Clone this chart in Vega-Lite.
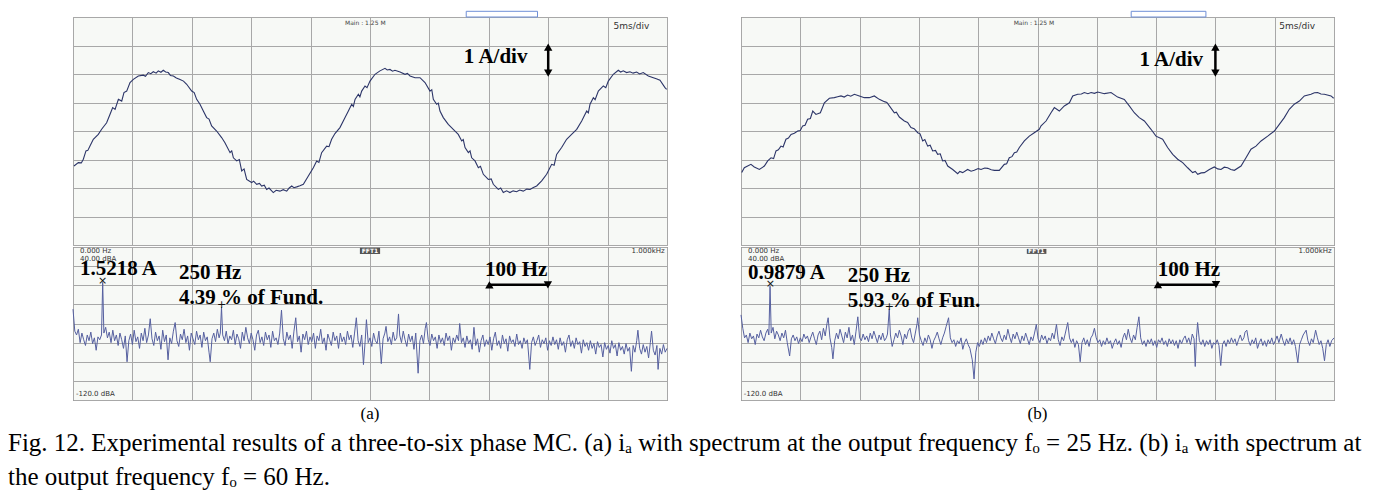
{
"$schema": "https://vega.github.io/schema/vega-lite/v6.json",
"background": "white",
"padding": {"left": 8, "top": 10, "right": 4, "bottom": 2},
"config": {"view": {"continuousWidth": 300}, "concat": {"spacing": 0}},
"datasets": {
"waveA": [{"t":0.08,"i":-1.23},{"t":0.45,"i":-1.11},{"t":0.7,"i":-1.12},{"t":0.87,"i":-0.99},{"t":1.09,"i":-0.7},{"t":1.25,"i":-0.68},{"t":1.43,"i":-0.53},{"t":1.71,"i":-0.29},{"t":2.13,"i":-0.12},{"t":2.41,"i":0.06},{"t":2.83,"i":0.29},{"t":3.11,"i":0.58},{"t":3.34,"i":0.82},{"t":3.54,"i":0.76},{"t":3.82,"i":1.11},{"t":4.1,"i":1.05},{"t":4.29,"i":1.35},{"t":4.52,"i":1.4},{"t":4.8,"i":1.7},{"t":5.08,"i":1.81},{"t":5.5,"i":1.93},{"t":5.92,"i":1.96},{"t":6.1,"i":1.92},{"t":6.34,"i":2.05},{"t":6.55,"i":2.01},{"t":6.76,"i":2.08},{"t":7.0,"i":2.03},{"t":7.18,"i":2.11},{"t":7.4,"i":2.06},{"t":7.6,"i":2.13},{"t":7.8,"i":2.07},{"t":8.02,"i":2.05},{"t":8.2,"i":1.95},{"t":8.45,"i":1.93},{"t":8.7,"i":1.86},{"t":9.01,"i":1.81},{"t":9.3,"i":1.75},{"t":9.57,"i":1.64},{"t":9.99,"i":1.4},{"t":10.2,"i":1.35},{"t":10.41,"i":1.11},{"t":10.69,"i":0.94},{"t":10.97,"i":0.7},{"t":11.25,"i":0.47},{"t":11.45,"i":0.42},{"t":11.67,"i":0.18},{"t":12.09,"i":0.0},{"t":12.51,"i":-0.23},{"t":12.79,"i":-0.41},{"t":13.22,"i":-0.76},{"t":13.36,"i":-0.7},{"t":13.5,"i":-0.94},{"t":13.78,"i":-1.05},{"t":14.0,"i":-1.0},{"t":14.2,"i":-1.4},{"t":14.4,"i":-1.33},{"t":14.62,"i":-1.7},{"t":15.04,"i":-1.81},{"t":15.2,"i":-1.76},{"t":15.46,"i":-1.87},{"t":15.7,"i":-1.84},{"t":15.88,"i":-1.93},{"t":16.1,"i":-1.9},{"t":16.3,"i":-2.05},{"t":16.5,"i":-2.0},{"t":16.86,"i":-2.16},{"t":17.1,"i":-2.08},{"t":17.42,"i":-2.11},{"t":17.7,"i":-2.06},{"t":17.99,"i":-2.11},{"t":18.2,"i":-2.0},{"t":18.41,"i":-1.93},{"t":18.6,"i":-1.99},{"t":18.83,"i":-1.96},{"t":19.1,"i":-1.92},{"t":19.39,"i":-1.87},{"t":19.81,"i":-1.58},{"t":20.23,"i":-1.29},{"t":20.51,"i":-1.05},{"t":20.7,"i":-1.1},{"t":20.93,"i":-0.76},{"t":21.35,"i":-0.53},{"t":21.55,"i":-0.55},{"t":21.77,"i":-0.29},{"t":22.05,"i":-0.09},{"t":22.47,"i":0.12},{"t":22.9,"i":0.47},{"t":23.18,"i":0.7},{"t":23.46,"i":0.94},{"t":23.6,"i":0.86},{"t":23.74,"i":1.11},{"t":24.02,"i":1.29},{"t":24.15,"i":1.2},{"t":24.3,"i":1.4},{"t":24.58,"i":1.58},{"t":24.75,"i":1.52},{"t":25.0,"i":1.75},{"t":25.42,"i":1.99},{"t":25.84,"i":2.11},{"t":26.26,"i":2.2},{"t":26.45,"i":2.14},{"t":26.68,"i":2.16},{"t":26.9,"i":2.1},{"t":27.1,"i":2.13},{"t":27.53,"i":2.07},{"t":27.95,"i":1.99},{"t":28.15,"i":2.02},{"t":28.37,"i":1.93},{"t":28.79,"i":1.87},{"t":29.21,"i":1.87},{"t":29.63,"i":1.7},{"t":30.05,"i":1.4},{"t":30.2,"i":1.45},{"t":30.33,"i":1.11},{"t":30.61,"i":0.94},{"t":30.75,"i":0.98},{"t":30.89,"i":0.7},{"t":31.17,"i":0.47},{"t":31.59,"i":0.23},{"t":32.01,"i":0.06},{"t":32.43,"i":-0.12},{"t":32.72,"i":-0.35},{"t":32.85,"i":-0.3},{"t":33.0,"i":-0.58},{"t":33.28,"i":-0.76},{"t":33.42,"i":-0.7},{"t":33.56,"i":-0.94},{"t":33.84,"i":-1.05},{"t":34.12,"i":-1.29},{"t":34.3,"i":-1.24},{"t":34.54,"i":-1.52},{"t":34.96,"i":-1.7},{"t":35.2,"i":-1.68},{"t":35.38,"i":-1.87},{"t":35.8,"i":-2.05},{"t":36.0,"i":-2.0},{"t":36.22,"i":-2.16},{"t":36.5,"i":-2.1},{"t":36.78,"i":-2.16},{"t":37.05,"i":-2.1},{"t":37.34,"i":-2.13},{"t":37.6,"i":-2.07},{"t":37.9,"i":-2.11},{"t":38.2,"i":-2.04},{"t":38.47,"i":-2.05},{"t":38.75,"i":-1.98},{"t":39.03,"i":-1.93},{"t":39.45,"i":-1.75},{"t":39.87,"i":-1.52},{"t":40.29,"i":-1.17},{"t":40.5,"i":-1.2},{"t":40.71,"i":-0.82},{"t":41.13,"i":-0.58},{"t":41.55,"i":-0.29},{"t":41.97,"i":-0.12},{"t":42.4,"i":0.06},{"t":42.82,"i":0.35},{"t":43.24,"i":0.7},{"t":43.38,"i":0.64},{"t":43.52,"i":0.94},{"t":43.8,"i":1.17},{"t":43.95,"i":1.1},{"t":44.22,"i":1.4},{"t":44.64,"i":1.58},{"t":44.85,"i":1.52},{"t":45.06,"i":1.75},{"t":45.48,"i":1.99},{"t":45.9,"i":2.13},{"t":46.1,"i":2.07},{"t":46.32,"i":2.11},{"t":46.6,"i":2.05},{"t":46.88,"i":2.08},{"t":47.15,"i":2.03},{"t":47.44,"i":2.07},{"t":47.7,"i":2.0},{"t":48.0,"i":2.05},{"t":48.43,"i":1.93},{"t":48.85,"i":1.87},{"t":49.1,"i":1.83},{"t":49.41,"i":1.78},{"t":49.83,"i":1.52},{"t":49.97,"i":1.46}],
"waveB": [{"t":0.06,"i":-1.46},{"t":0.28,"i":-1.29},{"t":0.56,"i":-1.23},{"t":0.84,"i":-1.17},{"t":1.12,"i":-1.26},{"t":1.55,"i":-1.35},{"t":1.97,"i":-1.23},{"t":2.25,"i":-1.05},{"t":2.53,"i":-0.94},{"t":2.75,"i":-0.97},{"t":2.95,"i":-0.7},{"t":3.15,"i":-0.66},{"t":3.37,"i":-0.53},{"t":3.55,"i":-0.56},{"t":3.79,"i":-0.29},{"t":4.0,"i":-0.25},{"t":4.22,"i":-0.12},{"t":4.5,"i":-0.08},{"t":4.78,"i":0.0},{"t":5.0,"i":0.02},{"t":5.2,"i":0.18},{"t":5.4,"i":0.2},{"t":5.62,"i":0.41},{"t":5.85,"i":0.44},{"t":6.05,"i":0.7},{"t":6.32,"i":0.58},{"t":6.69,"i":0.64},{"t":7.03,"i":0.99},{"t":7.45,"i":1.15},{"t":7.87,"i":1.17},{"t":8.15,"i":1.2},{"t":8.43,"i":1.23},{"t":8.7,"i":1.19},{"t":8.99,"i":1.26},{"t":9.25,"i":1.22},{"t":9.56,"i":1.29},{"t":9.98,"i":1.23},{"t":10.4,"i":1.17},{"t":10.82,"i":1.17},{"t":11.24,"i":1.23},{"t":11.66,"i":1.11},{"t":12.09,"i":1.03},{"t":12.3,"i":1.0},{"t":12.51,"i":0.88},{"t":12.93,"i":0.64},{"t":13.1,"i":0.66},{"t":13.35,"i":0.49},{"t":13.77,"i":0.35},{"t":14.05,"i":0.3},{"t":14.33,"i":0.12},{"t":14.6,"i":0.08},{"t":14.9,"i":-0.06},{"t":15.1,"i":-0.1},{"t":15.32,"i":-0.35},{"t":15.5,"i":-0.3},{"t":15.74,"i":-0.53},{"t":15.95,"i":-0.5},{"t":16.16,"i":-0.7},{"t":16.4,"i":-0.68},{"t":16.58,"i":-0.82},{"t":16.8,"i":-0.8},{"t":17.0,"i":-1.05},{"t":17.2,"i":-1.03},{"t":17.43,"i":-1.23},{"t":17.85,"i":-1.35},{"t":18.27,"i":-1.5},{"t":18.45,"i":-1.42},{"t":18.69,"i":-1.46},{"t":19.11,"i":-1.35},{"t":19.4,"i":-1.41},{"t":19.67,"i":-1.38},{"t":20.0,"i":-1.32},{"t":20.24,"i":-1.35},{"t":20.55,"i":-1.3},{"t":20.8,"i":-1.31},{"t":21.1,"i":-1.36},{"t":21.36,"i":-1.38},{"t":21.78,"i":-1.38},{"t":22.2,"i":-1.17},{"t":22.4,"i":-1.15},{"t":22.62,"i":-0.94},{"t":22.85,"i":-0.9},{"t":23.05,"i":-0.76},{"t":23.25,"i":-0.74},{"t":23.47,"i":-0.58},{"t":23.89,"i":-0.35},{"t":24.31,"i":-0.18},{"t":24.73,"i":-0.06},{"t":25.15,"i":0.06},{"t":25.3,"i":0.18},{"t":25.72,"i":0.35},{"t":26.14,"i":0.64},{"t":26.42,"i":0.82},{"t":26.84,"i":0.7},{"t":27.26,"i":0.88},{"t":27.69,"i":0.99},{"t":27.97,"i":1.23},{"t":28.39,"i":1.29},{"t":28.7,"i":1.3},{"t":28.95,"i":1.35},{"t":29.25,"i":1.31},{"t":29.52,"i":1.35},{"t":29.8,"i":1.32},{"t":30.08,"i":1.37},{"t":30.64,"i":1.31},{"t":31.2,"i":1.35},{"t":31.76,"i":1.19},{"t":32.32,"i":1.11},{"t":32.74,"i":0.88},{"t":33.16,"i":0.64},{"t":33.58,"i":0.47},{"t":34.01,"i":0.35},{"t":34.57,"i":0.06},{"t":34.99,"i":-0.18},{"t":35.55,"i":-0.29},{"t":35.97,"i":-0.58},{"t":36.4,"i":-0.82},{"t":36.82,"i":-0.99},{"t":37.24,"i":-1.11},{"t":37.66,"i":-1.29},{"t":38.08,"i":-1.46},{"t":38.3,"i":-1.42},{"t":38.51,"i":-1.52},{"t":38.8,"i":-1.47},{"t":39.07,"i":-1.46},{"t":39.49,"i":-1.35},{"t":39.91,"i":-1.26},{"t":40.2,"i":-1.33},{"t":40.47,"i":-1.35},{"t":40.75,"i":-1.27},{"t":41.03,"i":-1.29},{"t":41.3,"i":-1.35},{"t":41.6,"i":-1.38},{"t":42.16,"i":-1.23},{"t":42.58,"i":-0.94},{"t":43.0,"i":-0.64},{"t":43.42,"i":-0.53},{"t":43.85,"i":-0.35},{"t":44.41,"i":-0.18},{"t":44.97,"i":0.0},{"t":45.39,"i":0.23},{"t":45.81,"i":0.47},{"t":46.23,"i":0.76},{"t":46.65,"i":0.94},{"t":47.08,"i":1.05},{"t":47.5,"i":1.23},{"t":48.06,"i":1.29},{"t":48.35,"i":1.34},{"t":48.62,"i":1.35},{"t":48.9,"i":1.3},{"t":49.19,"i":1.29},{"t":49.75,"i":1.23},{"t":49.97,"i":1.15}],
"specA": [{"f":0,"d":-25},{"f":3,"d":-48},{"f":6,"d":-52},{"f":9,"d":-46},{"f":12,"d":-60},{"f":15,"d":-50},{"f":18,"d":-57},{"f":21,"d":-63},{"f":24,"d":-52},{"f":27,"d":-58},{"f":30,"d":-49},{"f":33,"d":-61},{"f":36,"d":-55},{"f":39,"d":-68},{"f":42,"d":-54},{"f":45,"d":-57},{"f":48,"d":-52},{"f":50,"d":3},{"f":52,"d":-50},{"f":55,"d":-44},{"f":58,"d":-55},{"f":61,"d":-49},{"f":64,"d":-60},{"f":67,"d":-47},{"f":70,"d":-58},{"f":73,"d":-52},{"f":76,"d":-63},{"f":79,"d":-50},{"f":82,"d":-57},{"f":85,"d":-66},{"f":88,"d":-53},{"f":91,"d":-80},{"f":94,"d":-58},{"f":97,"d":-51},{"f":100,"d":-62},{"f":103,"d":-47},{"f":106,"d":-59},{"f":109,"d":-54},{"f":112,"d":-66},{"f":115,"d":-50},{"f":118,"d":-58},{"f":121,"d":-45},{"f":124,"d":-60},{"f":127,"d":-52},{"f":130,"d":-35},{"f":133,"d":-56},{"f":136,"d":-63},{"f":139,"d":-49},{"f":142,"d":-58},{"f":145,"d":-53},{"f":148,"d":-67},{"f":151,"d":-47},{"f":154,"d":-59},{"f":157,"d":-52},{"f":160,"d":-78},{"f":163,"d":-55},{"f":166,"d":-61},{"f":169,"d":-48},{"f":172,"d":-39},{"f":175,"d":-58},{"f":178,"d":-64},{"f":181,"d":-51},{"f":184,"d":-57},{"f":187,"d":-46},{"f":190,"d":-60},{"f":193,"d":-53},{"f":196,"d":-68},{"f":199,"d":-50},{"f":202,"d":-56},{"f":205,"d":-62},{"f":208,"d":-48},{"f":211,"d":-57},{"f":214,"d":-52},{"f":217,"d":-65},{"f":220,"d":-49},{"f":223,"d":-58},{"f":226,"d":-54},{"f":229,"d":-70},{"f":231,"d":-80},{"f":234,"d":-56},{"f":237,"d":-50},{"f":240,"d":-59},{"f":243,"d":-46},{"f":246,"d":-55},{"f":248,"d":-50},{"f":250,"d":-23},{"f":252,"d":-52},{"f":255,"d":-58},{"f":258,"d":-48},{"f":261,"d":-61},{"f":264,"d":-53},{"f":267,"d":-57},{"f":270,"d":-47},{"f":273,"d":-62},{"f":276,"d":-51},{"f":279,"d":-56},{"f":282,"d":-66},{"f":285,"d":-49},{"f":288,"d":-58},{"f":291,"d":-44},{"f":294,"d":-55},{"f":297,"d":-61},{"f":300,"d":-50},{"f":303,"d":-57},{"f":306,"d":-68},{"f":309,"d":-52},{"f":312,"d":-47},{"f":315,"d":-60},{"f":318,"d":-54},{"f":321,"d":-63},{"f":324,"d":-49},{"f":327,"d":-57},{"f":330,"d":-52},{"f":333,"d":-65},{"f":336,"d":-48},{"f":339,"d":-58},{"f":342,"d":-55},{"f":345,"d":-62},{"f":348,"d":-50},{"f":351,"d":-26},{"f":354,"d":-56},{"f":357,"d":-63},{"f":360,"d":-49},{"f":363,"d":-57},{"f":366,"d":-52},{"f":369,"d":-66},{"f":372,"d":-48},{"f":375,"d":-34},{"f":378,"d":-59},{"f":381,"d":-53},{"f":384,"d":-70},{"f":387,"d":-51},{"f":390,"d":-57},{"f":393,"d":-48},{"f":396,"d":-62},{"f":399,"d":-54},{"f":402,"d":-59},{"f":405,"d":-50},{"f":408,"d":-66},{"f":411,"d":-53},{"f":414,"d":-58},{"f":417,"d":-46},{"f":420,"d":-61},{"f":423,"d":-55},{"f":426,"d":-68},{"f":429,"d":-51},{"f":432,"d":-57},{"f":435,"d":-63},{"f":438,"d":-49},{"f":441,"d":-58},{"f":444,"d":-53},{"f":447,"d":-66},{"f":450,"d":-50},{"f":453,"d":-59},{"f":456,"d":-54},{"f":459,"d":-62},{"f":462,"d":-48},{"f":465,"d":-57},{"f":468,"d":-52},{"f":471,"d":-65},{"f":474,"d":-50},{"f":477,"d":-34},{"f":480,"d":-58},{"f":483,"d":-64},{"f":486,"d":-52},{"f":489,"d":-83},{"f":492,"d":-57},{"f":494,"d":-36},{"f":497,"d":-60},{"f":500,"d":-55},{"f":503,"d":-64},{"f":506,"d":-50},{"f":509,"d":-58},{"f":512,"d":-61},{"f":515,"d":-48},{"f":519,"d":-82},{"f":522,"d":-56},{"f":525,"d":-50},{"f":527,"d":-43},{"f":530,"d":-59},{"f":533,"d":-54},{"f":536,"d":-62},{"f":539,"d":-49},{"f":542,"d":-58},{"f":545,"d":-55},{"f":548,"d":-30},{"f":550,"d":-52},{"f":553,"d":-60},{"f":556,"d":-48},{"f":559,"d":-57},{"f":562,"d":-64},{"f":565,"d":-51},{"f":568,"d":-59},{"f":571,"d":-53},{"f":574,"d":-67},{"f":577,"d":-50},{"f":581,"d":-92},{"f":584,"d":-58},{"f":587,"d":-52},{"f":590,"d":-61},{"f":593,"d":-45},{"f":595,"d":-39},{"f":598,"d":-57},{"f":601,"d":-63},{"f":604,"d":-51},{"f":607,"d":-58},{"f":610,"d":-54},{"f":613,"d":-66},{"f":616,"d":-52},{"f":619,"d":-60},{"f":622,"d":-55},{"f":625,"d":-63},{"f":628,"d":-50},{"f":631,"d":-58},{"f":634,"d":-53},{"f":637,"d":-68},{"f":640,"d":-55},{"f":643,"d":-60},{"f":646,"d":-52},{"f":649,"d":-58},{"f":651,"d":-40},{"f":654,"d":-60},{"f":657,"d":-55},{"f":660,"d":-65},{"f":663,"d":-53},{"f":666,"d":-61},{"f":669,"d":-57},{"f":672,"d":-67},{"f":675,"d":-44},{"f":678,"d":-63},{"f":681,"d":-56},{"f":684,"d":-70},{"f":687,"d":-58},{"f":690,"d":-52},{"f":693,"d":-64},{"f":696,"d":-57},{"f":699,"d":-62},{"f":702,"d":-54},{"f":705,"d":-68},{"f":708,"d":-56},{"f":711,"d":-49},{"f":714,"d":-63},{"f":717,"d":-58},{"f":720,"d":-66},{"f":723,"d":-52},{"f":726,"d":-61},{"f":729,"d":-56},{"f":732,"d":-69},{"f":735,"d":-53},{"f":738,"d":-60},{"f":741,"d":-57},{"f":744,"d":-64},{"f":747,"d":-51},{"f":750,"d":-62},{"f":753,"d":-58},{"f":756,"d":-66},{"f":759,"d":-55},{"f":762,"d":-61},{"f":765,"d":-57},{"f":769,"d":-88},{"f":772,"d":-60},{"f":775,"d":-54},{"f":778,"d":-63},{"f":781,"d":-58},{"f":784,"d":-52},{"f":787,"d":-65},{"f":790,"d":-57},{"f":793,"d":-61},{"f":796,"d":-55},{"f":799,"d":-68},{"f":802,"d":-58},{"f":805,"d":-63},{"f":808,"d":-54},{"f":811,"d":-62},{"f":814,"d":-57},{"f":817,"d":-67},{"f":820,"d":-55},{"f":823,"d":-63},{"f":826,"d":-59},{"f":829,"d":-70},{"f":832,"d":-57},{"f":835,"d":-52},{"f":838,"d":-64},{"f":841,"d":-58},{"f":844,"d":-66},{"f":847,"d":-55},{"f":850,"d":-62},{"f":853,"d":-59},{"f":856,"d":-71},{"f":859,"d":-57},{"f":862,"d":-64},{"f":865,"d":-60},{"f":868,"d":-68},{"f":871,"d":-58},{"f":874,"d":-66},{"f":877,"d":-61},{"f":880,"d":-72},{"f":883,"d":-59},{"f":886,"d":-65},{"f":889,"d":-62},{"f":892,"d":-75},{"f":895,"d":-60},{"f":898,"d":-67},{"f":901,"d":-63},{"f":904,"d":-71},{"f":907,"d":-58},{"f":910,"d":-66},{"f":913,"d":-62},{"f":916,"d":-74},{"f":919,"d":-60},{"f":922,"d":-68},{"f":925,"d":-64},{"f":928,"d":-72},{"f":931,"d":-61},{"f":934,"d":-69},{"f":937,"d":-65},{"f":940,"d":-90},{"f":943,"d":-63},{"f":946,"d":-70},{"f":949,"d":-58},{"f":951,"d":-47},{"f":954,"d":-66},{"f":957,"d":-72},{"f":960,"d":-62},{"f":963,"d":-70},{"f":966,"d":-64},{"f":969,"d":-76},{"f":972,"d":-60},{"f":974,"d":-48},{"f":977,"d":-68},{"f":980,"d":-73},{"f":983,"d":-63},{"f":985,"d":-88},{"f":988,"d":-66},{"f":991,"d":-72},{"f":994,"d":-62},{"f":997,"d":-70},{"f":1000,"d":-66}],
"specB": [{"f":0,"d":-31},{"f":3,"d":-45},{"f":6,"d":-55},{"f":9,"d":-52},{"f":12,"d":-60},{"f":15,"d":-50},{"f":18,"d":-56},{"f":21,"d":-53},{"f":24,"d":-62},{"f":27,"d":-51},{"f":30,"d":-55},{"f":33,"d":-47},{"f":36,"d":-54},{"f":39,"d":-58},{"f":42,"d":-50},{"f":45,"d":-46},{"f":47,"d":-52},{"f":49,"d":-1},{"f":51,"d":-50},{"f":54,"d":-44},{"f":57,"d":-56},{"f":60,"d":-48},{"f":63,"d":-52},{"f":66,"d":-58},{"f":69,"d":-50},{"f":72,"d":-55},{"f":75,"d":-47},{"f":78,"d":-60},{"f":82,"d":-74},{"f":85,"d":-56},{"f":88,"d":-52},{"f":91,"d":-58},{"f":94,"d":-54},{"f":97,"d":-61},{"f":100,"d":-55},{"f":103,"d":-59},{"f":106,"d":-51},{"f":109,"d":-56},{"f":112,"d":-53},{"f":115,"d":-60},{"f":118,"d":-54},{"f":121,"d":-49},{"f":124,"d":-56},{"f":127,"d":-62},{"f":130,"d":-52},{"f":133,"d":-48},{"f":136,"d":-57},{"f":139,"d":-45},{"f":142,"d":-53},{"f":145,"d":-40},{"f":147,"d":-34},{"f":150,"d":-55},{"f":153,"d":-65},{"f":155,"d":-77},{"f":158,"d":-58},{"f":161,"d":-50},{"f":164,"d":-56},{"f":167,"d":-46},{"f":170,"d":-53},{"f":173,"d":-60},{"f":176,"d":-49},{"f":179,"d":-55},{"f":182,"d":-44},{"f":185,"d":-58},{"f":188,"d":-52},{"f":191,"d":-62},{"f":194,"d":-48},{"f":197,"d":-33},{"f":200,"d":-55},{"f":203,"d":-58},{"f":206,"d":-51},{"f":209,"d":-57},{"f":212,"d":-53},{"f":215,"d":-59},{"f":218,"d":-50},{"f":221,"d":-56},{"f":224,"d":-48},{"f":227,"d":-54},{"f":230,"d":-60},{"f":233,"d":-52},{"f":236,"d":-57},{"f":239,"d":-50},{"f":242,"d":-58},{"f":245,"d":-55},{"f":247,"d":-51},{"f":250,"d":-25},{"f":252,"d":-52},{"f":255,"d":-64},{"f":258,"d":-57},{"f":261,"d":-50},{"f":264,"d":-55},{"f":267,"d":-47},{"f":270,"d":-53},{"f":273,"d":-62},{"f":276,"d":-51},{"f":279,"d":-56},{"f":282,"d":-48},{"f":285,"d":-45},{"f":288,"d":-55},{"f":291,"d":-60},{"f":294,"d":-50},{"f":297,"d":-40},{"f":298,"d":-34},{"f":301,"d":-52},{"f":304,"d":-58},{"f":307,"d":-63},{"f":310,"d":-55},{"f":313,"d":-60},{"f":316,"d":-52},{"f":319,"d":-57},{"f":322,"d":-66},{"f":325,"d":-58},{"f":328,"d":-54},{"f":331,"d":-49},{"f":334,"d":-56},{"f":337,"d":-62},{"f":340,"d":-55},{"f":343,"d":-50},{"f":346,"d":-43},{"f":350,"d":-34},{"f":353,"d":-55},{"f":356,"d":-60},{"f":359,"d":-57},{"f":362,"d":-64},{"f":365,"d":-58},{"f":368,"d":-61},{"f":371,"d":-55},{"f":374,"d":-67},{"f":377,"d":-60},{"f":380,"d":-56},{"f":383,"d":-62},{"f":386,"d":-66},{"f":390,"d":-78},{"f":393,"d":-98},{"f":396,"d":-70},{"f":399,"d":-60},{"f":402,"d":-64},{"f":405,"d":-57},{"f":408,"d":-62},{"f":411,"d":-55},{"f":414,"d":-60},{"f":417,"d":-53},{"f":420,"d":-58},{"f":423,"d":-50},{"f":426,"d":-56},{"f":429,"d":-61},{"f":432,"d":-53},{"f":435,"d":-48},{"f":438,"d":-55},{"f":441,"d":-59},{"f":444,"d":-52},{"f":447,"d":-57},{"f":450,"d":-46},{"f":453,"d":-54},{"f":456,"d":-60},{"f":459,"d":-51},{"f":462,"d":-56},{"f":465,"d":-49},{"f":468,"d":-55},{"f":471,"d":-61},{"f":474,"d":-53},{"f":477,"d":-58},{"f":480,"d":-50},{"f":483,"d":-56},{"f":486,"d":-62},{"f":489,"d":-54},{"f":492,"d":-58},{"f":495,"d":-50},{"f":498,"d":-41},{"f":501,"d":-56},{"f":504,"d":-60},{"f":507,"d":-52},{"f":510,"d":-57},{"f":513,"d":-53},{"f":516,"d":-61},{"f":519,"d":-55},{"f":522,"d":-58},{"f":525,"d":-50},{"f":528,"d":-56},{"f":532,"d":-41},{"f":535,"d":-57},{"f":538,"d":-63},{"f":541,"d":-54},{"f":544,"d":-58},{"f":547,"d":-50},{"f":551,"d":-39},{"f":554,"d":-55},{"f":557,"d":-60},{"f":560,"d":-56},{"f":563,"d":-65},{"f":566,"d":-58},{"f":569,"d":-62},{"f":572,"d":-80},{"f":575,"d":-60},{"f":578,"d":-55},{"f":581,"d":-62},{"f":584,"d":-57},{"f":587,"d":-64},{"f":590,"d":-55},{"f":593,"d":-52},{"f":596,"d":-45},{"f":599,"d":-55},{"f":602,"d":-60},{"f":605,"d":-57},{"f":608,"d":-64},{"f":611,"d":-58},{"f":614,"d":-62},{"f":617,"d":-55},{"f":620,"d":-61},{"f":623,"d":-58},{"f":626,"d":-66},{"f":629,"d":-60},{"f":632,"d":-56},{"f":635,"d":-62},{"f":638,"d":-58},{"f":641,"d":-65},{"f":644,"d":-55},{"f":647,"d":-50},{"f":650,"d":-57},{"f":653,"d":-46},{"f":656,"d":-55},{"f":659,"d":-60},{"f":662,"d":-52},{"f":665,"d":-57},{"f":668,"d":-44},{"f":671,"d":-33},{"f":674,"d":-55},{"f":677,"d":-62},{"f":680,"d":-58},{"f":683,"d":-64},{"f":686,"d":-57},{"f":689,"d":-61},{"f":692,"d":-56},{"f":695,"d":-63},{"f":698,"d":-58},{"f":701,"d":-65},{"f":704,"d":-57},{"f":707,"d":-60},{"f":710,"d":-55},{"f":713,"d":-62},{"f":716,"d":-58},{"f":719,"d":-64},{"f":722,"d":-56},{"f":725,"d":-61},{"f":728,"d":-57},{"f":731,"d":-63},{"f":734,"d":-58},{"f":737,"d":-66},{"f":740,"d":-57},{"f":743,"d":-61},{"f":746,"d":-56},{"f":749,"d":-53},{"f":752,"d":-60},{"f":755,"d":-55},{"f":758,"d":-62},{"f":761,"d":-51},{"f":764,"d":-56},{"f":766,"d":-85},{"f":768,"d":-55},{"f":770,"d":-39},{"f":773,"d":-58},{"f":776,"d":-62},{"f":779,"d":-57},{"f":782,"d":-64},{"f":785,"d":-58},{"f":788,"d":-62},{"f":791,"d":-57},{"f":794,"d":-66},{"f":797,"d":-60},{"f":800,"d":-62},{"f":803,"d":-57},{"f":806,"d":-63},{"f":809,"d":-84},{"f":812,"d":-62},{"f":815,"d":-58},{"f":818,"d":-64},{"f":821,"d":-57},{"f":824,"d":-61},{"f":827,"d":-55},{"f":830,"d":-60},{"f":833,"d":-56},{"f":836,"d":-63},{"f":839,"d":-57},{"f":842,"d":-52},{"f":845,"d":-58},{"f":848,"d":-55},{"f":850,"d":-49},{"f":853,"d":-47},{"f":856,"d":-58},{"f":859,"d":-63},{"f":862,"d":-57},{"f":865,"d":-61},{"f":868,"d":-55},{"f":871,"d":-66},{"f":874,"d":-60},{"f":877,"d":-56},{"f":880,"d":-63},{"f":883,"d":-58},{"f":886,"d":-64},{"f":889,"d":-57},{"f":892,"d":-61},{"f":895,"d":-55},{"f":898,"d":-62},{"f":901,"d":-58},{"f":904,"d":-53},{"f":907,"d":-60},{"f":911,"d":-51},{"f":914,"d":-58},{"f":917,"d":-63},{"f":920,"d":-56},{"f":923,"d":-61},{"f":926,"d":-55},{"f":929,"d":-62},{"f":932,"d":-57},{"f":935,"d":-64},{"f":939,"d":-81},{"f":942,"d":-62},{"f":945,"d":-57},{"f":948,"d":-52},{"f":953,"d":-47},{"f":956,"d":-58},{"f":959,"d":-63},{"f":962,"d":-56},{"f":965,"d":-60},{"f":969,"d":-47},{"f":972,"d":-55},{"f":975,"d":-62},{"f":978,"d":-58},{"f":981,"d":-66},{"f":984,"d":-79},{"f":987,"d":-62},{"f":990,"d":-57},{"f":993,"d":-64},{"f":996,"d":-58},{"f":1000,"d":-55}]
},
"title": {
 "text": ["Fig. 12. Experimental results of a three-to-six phase MC. (a) iₐ with spectrum at the output frequency fₒ = 25 Hz. (b) iₐ with spectrum at", "the output frequency fₒ = 60 Hz."],
 "orient": "bottom", "anchor": "start", "frame": "group", "dx": -65, "offset": 8,
 "font": "Liberation Serif", "fontSize": 25, "fontWeight": "normal", "color": "#000", "lineHeight": 34, "baseline": "top"
},
"hconcat": [
 {
  "spacing": 0,
  "vconcat": [
   {
    "width": 594, "height": 228,
    "view": {"fill": "#f7f9f6", "stroke": "#666", "strokeDash": [2, 2]},
    "layer": [
     {"data": {"name": "waveA"},
      "mark": {"type": "line", "color": "#2c3568", "strokeWidth": 1.1},
      "encoding": {
       "x": {"field": "t", "type": "quantitative", "scale": {"domain": [0, 50], "nice": false, "zero": false},
             "axis": {"values": [0,5,10,15,20,25,30,35,40,45,50], "tickCount": 30, "grid": true, "labels": false, "ticks": false, "domain": false, "title": null, "gridColor": "#a8a8a8"}},
       "y": {"field": "i", "type": "quantitative", "scale": {"domain": [-4, 4], "nice": false, "zero": false},
             "axis": {"values": [-4,-3,-2,-1,0,1,2,3,4], "tickCount": 30, "grid": true, "labels": false, "ticks": false, "domain": false, "title": null, "gridColor": "#a8a8a8"}}
      }},
     {"data": {"values": [{"t": 33.1, "t2": 39.1, "a": 4.0, "b": 4.2}]},
      "mark": {"type": "rect", "fill": null, "stroke": "#6f8fd6", "strokeWidth": 1},
      "encoding": {"x": {"field": "t", "type": "quantitative"}, "x2": {"field": "t2"}, "y": {"field": "a", "type": "quantitative"}, "y2": {"field": "b"}}},
     {"data": {"values": [{"t": 32.9, "i": 2.4, "label": "1 A/div"}]},
      "mark": {"type": "text", "align": "left", "baseline": "alphabetic", "font": "Liberation Serif", "fontWeight": "bold", "fontSize": 21, "color": "#000"},
      "encoding": {"x": {"field": "t", "type": "quantitative"}, "y": {"field": "i", "type": "quantitative"}, "text": {"field": "label"}}},
     {"data": {"values": [{"t": 24.6, "i": 3.79, "label": "Main : 1.25 M"}]},
      "mark": {"type": "text", "align": "center", "baseline": "middle", "font": "DejaVu Sans", "fontSize": 6, "color": "#444"},
      "encoding": {"x": {"field": "t", "type": "quantitative"}, "y": {"field": "i", "type": "quantitative"}, "text": {"field": "label"}}},
     {"data": {"values": [{"t": 47, "i": 3.68, "label": "5ms/div"}]},
      "mark": {"type": "text", "align": "center", "baseline": "middle", "font": "DejaVu Sans", "fontSize": 9, "color": "#333"},
      "encoding": {"x": {"field": "t", "type": "quantitative"}, "y": {"field": "i", "type": "quantitative"}, "text": {"field": "label"}}},
     {"data": {"values": [{"t": 40, "a": 2.03, "b": 2.94}]},
      "mark": {"type": "rule", "color": "#000", "strokeWidth": 2.5},
      "encoding": {"x": {"field": "t", "type": "quantitative"}, "y": {"field": "a", "type": "quantitative"}, "y2": {"field": "b"}}},
     {"data": {"values": [{"t": 40, "i": 2.94, "dir": "up"}, {"t": 40, "i": 2.03, "dir": "down"}]},
      "mark": {"type": "point", "filled": true, "color": "#000", "size": 70, "opacity": 1},
      "encoding": {"x": {"field": "t", "type": "quantitative"}, "y": {"field": "i", "type": "quantitative"},
                   "shape": {"field": "dir", "type": "nominal", "scale": {"domain": ["up", "down"], "range": ["triangle-up", "triangle-down"]}, "legend": null}}}
    ]
   },
   {
    "width": 594, "height": 153,
    "view": {"fill": "#f7f9f6", "stroke": "#555"},
    "title": {"text": "(a)", "orient": "bottom", "anchor": "middle", "offset": 6, "font": "Liberation Serif", "fontSize": 17, "fontWeight": "normal", "color": "#000"},
    "layer": [
     {"data": {"name": "specA"},
      "mark": {"type": "line", "color": "#5660a0", "strokeWidth": 1},
      "encoding": {
       "x": {"field": "f", "type": "quantitative", "scale": {"domain": [0, 1000], "nice": false, "zero": false},
             "axis": {"values": [0,100,200,300,400,500,600,700,800,900,1000], "tickCount": 30, "grid": true, "labels": false, "ticks": false, "domain": false, "title": null, "gridColor": "#a8a8a8"}},
       "y": {"field": "d", "type": "quantitative", "scale": {"domain": [-120, 40], "nice": false, "zero": false},
             "axis": {"values": [-120,-100,-80,-60,-40,-20,0,20,40], "tickCount": 30, "grid": true, "labels": false, "ticks": false, "domain": false, "title": null, "gridColor": "#a8a8a8"}}
      }},
     {"data": {"values": [{"f": 483, "f2": 517, "d": 39.3, "d2": 32.8}]},
      "mark": {"type": "rect", "color": "#555"},
      "encoding": {"x": {"field": "f", "type": "quantitative"}, "x2": {"field": "f2"}, "y": {"field": "d", "type": "quantitative"}, "y2": {"field": "d2"}}},
     {"data": {"values": [{"f": 500, "d": 36, "label": "FFT1"}]},
      "mark": {"type": "text", "align": "center", "baseline": "middle", "font": "DejaVu Sans", "fontSize": 6, "fontWeight": "bold", "color": "#fff"},
      "encoding": {"x": {"field": "f", "type": "quantitative"}, "y": {"field": "d", "type": "quantitative"}, "text": {"field": "label"}}},
     {"data": {"values": [{"f": 11.8, "d": 35.8, "label": "0.000 Hz"}, {"f": 11.8, "d": 27.4, "label": "40.00 dBA"}, {"f": 5, "d": -113.8, "label": "-120.0 dBA"}]},
      "mark": {"type": "text", "align": "left", "baseline": "middle", "font": "DejaVu Sans", "fontSize": 7, "color": "#333"},
      "encoding": {"x": {"field": "f", "type": "quantitative"}, "y": {"field": "d", "type": "quantitative"}, "text": {"field": "label"}}},
     {"data": {"values": [{"f": 996, "d": 35.8, "label": "1.000kHz"}]},
      "mark": {"type": "text", "align": "right", "baseline": "middle", "font": "DejaVu Sans", "fontSize": 7, "color": "#333"},
      "encoding": {"x": {"field": "f", "type": "quantitative"}, "y": {"field": "d", "type": "quantitative"}, "text": {"field": "label"}}},
     {"data": {"values": [{"f": 11.8, "d": 10.7, "label": "1.5218 A"}, {"f": 178.5, "d": 6.5, "label": "250 Hz"}, {"f": 178.5, "d": -19.3, "label": "4.39 % of Fund."}, {"f": 693.6, "d": 9.4, "label": "100 Hz"}]},
      "mark": {"type": "text", "align": "left", "baseline": "alphabetic", "font": "Liberation Serif", "fontWeight": "bold", "fontSize": 21, "color": "#000"},
      "encoding": {"x": {"field": "f", "type": "quantitative"}, "y": {"field": "d", "type": "quantitative"}, "text": {"field": "label"}}},
     {"data": {"values": [{"f": 50, "d": 4.4, "label": "×"}, {"f": 250, "d": -20.4, "label": "+"}]},
      "mark": {"type": "text", "align": "center", "baseline": "middle", "font": "DejaVu Sans", "fontSize": 11, "color": "#111"},
      "encoding": {"x": {"field": "f", "type": "quantitative"}, "y": {"field": "d", "type": "quantitative"}, "text": {"field": "label"}}},
     {"data": {"values": [{"f": 700, "f2": 800, "d": 0.5}]},
      "mark": {"type": "rule", "color": "#000", "strokeWidth": 2.5},
      "encoding": {"x": {"field": "f", "type": "quantitative"}, "x2": {"field": "f2"}, "y": {"field": "d", "type": "quantitative"}}},
     {"data": {"values": [{"f": 701, "d": 0.5, "dir": "left"}, {"f": 799.5, "d": 0.5, "dir": "right"}]},
      "mark": {"type": "point", "filled": true, "color": "#000", "size": 70, "opacity": 1},
      "encoding": {"x": {"field": "f", "type": "quantitative"}, "y": {"field": "d", "type": "quantitative"},
                   "shape": {"field": "dir", "type": "nominal", "scale": {"domain": ["left", "right"], "range": ["triangle-left", "triangle-right"]}, "legend": null}}}
    ]
   }
  ]
 },
 {
  "spacing": 0,
  "vconcat": [
   {
    "width": 593, "height": 228,
    "view": {"fill": "#f7f9f6", "stroke": "#666", "strokeDash": [2, 2]},
    "layer": [
     {"data": {"name": "waveB"},
      "mark": {"type": "line", "color": "#2c3568", "strokeWidth": 1.1},
      "encoding": {
       "x": {"field": "t", "type": "quantitative", "scale": {"domain": [0, 50], "nice": false, "zero": false},
             "axis": {"values": [0,5,10,15,20,25,30,35,40,45,50], "tickCount": 30, "grid": true, "labels": false, "ticks": false, "domain": false, "title": null, "gridColor": "#a8a8a8"}},
       "y": {"field": "i", "type": "quantitative", "scale": {"domain": [-4, 4], "nice": false, "zero": false},
             "axis": {"values": [-4,-3,-2,-1,0,1,2,3,4], "tickCount": 30, "grid": true, "labels": false, "ticks": false, "domain": false, "title": null, "gridColor": "#a8a8a8"}}
      }},
     {"data": {"values": [{"t": 32.9, "t2": 39.2, "a": 4.0, "b": 4.2}]},
      "mark": {"type": "rect", "fill": null, "stroke": "#6f8fd6", "strokeWidth": 1},
      "encoding": {"x": {"field": "t", "type": "quantitative"}, "x2": {"field": "t2"}, "y": {"field": "a", "type": "quantitative"}, "y2": {"field": "b"}}},
     {"data": {"values": [{"t": 33.6, "i": 2.28, "label": "1 A/div"}]},
      "mark": {"type": "text", "align": "left", "baseline": "alphabetic", "font": "Liberation Serif", "fontWeight": "bold", "fontSize": 21, "color": "#000"},
      "encoding": {"x": {"field": "t", "type": "quantitative"}, "y": {"field": "i", "type": "quantitative"}, "text": {"field": "label"}}},
     {"data": {"values": [{"t": 24.7, "i": 3.79, "label": "Main : 1.25 M"}]},
      "mark": {"type": "text", "align": "center", "baseline": "middle", "font": "DejaVu Sans", "fontSize": 6, "color": "#444"},
      "encoding": {"x": {"field": "t", "type": "quantitative"}, "y": {"field": "i", "type": "quantitative"}, "text": {"field": "label"}}},
     {"data": {"values": [{"t": 46.9, "i": 3.68, "label": "5ms/div"}]},
      "mark": {"type": "text", "align": "center", "baseline": "middle", "font": "DejaVu Sans", "fontSize": 9, "color": "#333"},
      "encoding": {"x": {"field": "t", "type": "quantitative"}, "y": {"field": "i", "type": "quantitative"}, "text": {"field": "label"}}},
     {"data": {"values": [{"t": 40, "a": 2.03, "b": 2.94}]},
      "mark": {"type": "rule", "color": "#000", "strokeWidth": 2.5},
      "encoding": {"x": {"field": "t", "type": "quantitative"}, "y": {"field": "a", "type": "quantitative"}, "y2": {"field": "b"}}},
     {"data": {"values": [{"t": 40, "i": 2.94, "dir": "up"}, {"t": 40, "i": 2.03, "dir": "down"}]},
      "mark": {"type": "point", "filled": true, "color": "#000", "size": 70, "opacity": 1},
      "encoding": {"x": {"field": "t", "type": "quantitative"}, "y": {"field": "i", "type": "quantitative"},
                   "shape": {"field": "dir", "type": "nominal", "scale": {"domain": ["up", "down"], "range": ["triangle-up", "triangle-down"]}, "legend": null}}}
    ]
   },
   {
    "width": 593, "height": 153,
    "view": {"fill": "#f7f9f6", "stroke": "#555"},
    "title": {"text": "(b)", "orient": "bottom", "anchor": "middle", "offset": 6, "font": "Liberation Serif", "fontSize": 17, "fontWeight": "normal", "color": "#000"},
    "layer": [
     {"data": {"name": "specB"},
      "mark": {"type": "line", "color": "#5660a0", "strokeWidth": 1},
      "encoding": {
       "x": {"field": "f", "type": "quantitative", "scale": {"domain": [0, 1000], "nice": false, "zero": false},
             "axis": {"values": [0,100,200,300,400,500,600,700,800,900,1000], "tickCount": 30, "grid": true, "labels": false, "ticks": false, "domain": false, "title": null, "gridColor": "#a8a8a8"}},
       "y": {"field": "d", "type": "quantitative", "scale": {"domain": [-120, 40], "nice": false, "zero": false},
             "axis": {"values": [-120,-100,-80,-60,-40,-20,0,20,40], "tickCount": 30, "grid": true, "labels": false, "ticks": false, "domain": false, "title": null, "gridColor": "#a8a8a8"}}
      }},
     {"data": {"values": [{"f": 482, "f2": 515, "d": 38, "d2": 32.8}]},
      "mark": {"type": "rect", "color": "#555"},
      "encoding": {"x": {"field": "f", "type": "quantitative"}, "x2": {"field": "f2"}, "y": {"field": "d", "type": "quantitative"}, "y2": {"field": "d2"}}},
     {"data": {"values": [{"f": 498, "d": 35.4, "label": "FFT1"}]},
      "mark": {"type": "text", "align": "center", "baseline": "middle", "font": "DejaVu Sans", "fontSize": 6, "fontWeight": "bold", "color": "#fff"},
      "encoding": {"x": {"field": "f", "type": "quantitative"}, "y": {"field": "d", "type": "quantitative"}, "text": {"field": "label"}}},
     {"data": {"values": [{"f": 11.8, "d": 35.8, "label": "0.000 Hz"}, {"f": 11.8, "d": 27.4, "label": "40.00 dBA"}, {"f": 4.5, "d": -113.8, "label": "-120.0 dBA"}]},
      "mark": {"type": "text", "align": "left", "baseline": "middle", "font": "DejaVu Sans", "fontSize": 7, "color": "#333"},
      "encoding": {"x": {"field": "f", "type": "quantitative"}, "y": {"field": "d", "type": "quantitative"}, "text": {"field": "label"}}},
     {"data": {"values": [{"f": 996, "d": 35.8, "label": "1.000kHz"}]},
      "mark": {"type": "text", "align": "right", "baseline": "middle", "font": "DejaVu Sans", "fontSize": 7, "color": "#333"},
      "encoding": {"x": {"field": "f", "type": "quantitative"}, "y": {"field": "d", "type": "quantitative"}, "text": {"field": "label"}}},
     {"data": {"values": [{"f": 11.8, "d": 6.5, "label": "0.9879 A"}, {"f": 180, "d": 3.4, "label": "250 Hz"}, {"f": 180, "d": -22.8, "label": "5.93 % of Fun."}, {"f": 702.7, "d": 9.4, "label": "100 Hz"}]},
      "mark": {"type": "text", "align": "left", "baseline": "alphabetic", "font": "Liberation Serif", "fontWeight": "bold", "fontSize": 21, "color": "#000"},
      "encoding": {"x": {"field": "f", "type": "quantitative"}, "y": {"field": "d", "type": "quantitative"}, "text": {"field": "label"}}},
     {"data": {"values": [{"f": 49.4, "d": 1.3, "label": "×"}, {"f": 250, "d": -22.5, "label": "+"}]},
      "mark": {"type": "text", "align": "center", "baseline": "middle", "font": "DejaVu Sans", "fontSize": 11, "color": "#111"},
      "encoding": {"x": {"field": "f", "type": "quantitative"}, "y": {"field": "d", "type": "quantitative"}, "text": {"field": "label"}}},
     {"data": {"values": [{"f": 702, "f2": 802, "d": 0.6}]},
      "mark": {"type": "rule", "color": "#000", "strokeWidth": 2.5},
      "encoding": {"x": {"field": "f", "type": "quantitative"}, "x2": {"field": "f2"}, "y": {"field": "d", "type": "quantitative"}}},
     {"data": {"values": [{"f": 703, "d": 0.6, "dir": "left"}, {"f": 801, "d": 0.6, "dir": "right"}]},
      "mark": {"type": "point", "filled": true, "color": "#000", "size": 70, "opacity": 1},
      "encoding": {"x": {"field": "f", "type": "quantitative"}, "y": {"field": "d", "type": "quantitative"},
                   "shape": {"field": "dir", "type": "nominal", "scale": {"domain": ["left", "right"], "range": ["triangle-left", "triangle-right"]}, "legend": null}}}
    ]
   }
  ]
 }
],
"spacing": 68
}
